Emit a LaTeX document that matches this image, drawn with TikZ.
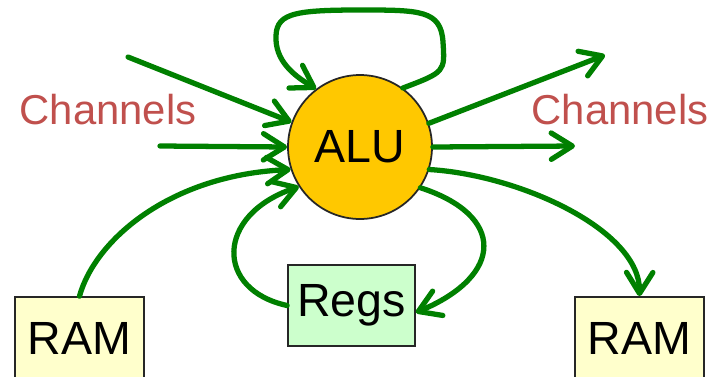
\documentclass[tikz,border=0pt]{standalone}
\usepackage{fontspec}
\setmainfont{Liberation Sans}
\usetikzlibrary{arrows.meta}
\definecolor{flow}{HTML}{008000}
\definecolor{chan}{HTML}{C0504D}
\definecolor{alufill}{HTML}{FFC800}
\definecolor{ramfill}{HTML}{FFFFCC}
\definecolor{regfill}{HTML}{CCFFCC}
\begin{document}
\begin{tikzpicture}[x=0.02cm,y=-0.02cm,
  flowline/.style={draw=flow,line width=3pt,line cap=round,line join=round,
    -{Straight Barb[length=12pt,width=15pt,line cap=round,line join=round]}},
  unitbox/.style={draw=black!85,line width=1pt,inner sep=0pt,font=\fontsize{26.5}{30}\selectfont},
  chanlabel/.style={text=chan,font=\fontsize{23.8}{28}\selectfont,inner sep=0pt}]
\useasboundingbox (0,0) rectangle (723,376);
\node[unitbox,circle,fill=alufill,minimum size=2.88cm] (alu) at (360,147) {ALU};
\node[unitbox,rectangle,fill=ramfill,minimum width=2.58cm,minimum height=1.64cm] (ramL) at (79.5,338) {RAM};
\node[unitbox,rectangle,fill=ramfill,minimum width=2.58cm,minimum height=1.64cm] (ramR) at (639.5,338) {RAM};
\node[unitbox,rectangle,fill=regfill,minimum width=2.54cm,minimum height=1.62cm] (regs) at (351.5,305.5) {Regs};
\node[chanlabel] (chanL) at (108,110) {Channels};
\node[chanlabel] (chanR) at (620,110) {Channels};
\coordinate (inA) at (128,57);
\coordinate (inB) at (160,146);
\coordinate (outA) at (605,55);
\coordinate (outB) at (575,146);
% inputs from channels
\draw[flowline] (inA) -- (alu.160);
\draw[flowline] (inB) -- (alu.180);
% outputs to channels
\draw[flowline] (alu.19) -- (outA);
\draw[flowline] (alu.0) -- (outB);
% self loop on top
\draw[flowline] (alu.54) .. controls (445,72) .. (443,42)
  .. controls (441,10) and (420,10) .. (360,10)
  .. controls (290,10) and (275,14) .. (276,40)
  .. controls (277,64) and (298,78) .. (alu.127);
% RAM left into ALU
\draw[flowline] (ramL.north) .. controls (95,240) and (170,175) .. (alu.198);
% Regs back into ALU
\draw[flowline] (regs.west) .. controls (215,290) and (215,215) .. (alu.213);
% ALU into Regs
\draw[flowline] (alu.-34) .. controls (505,215) and (505,275) .. ([yshift=-0.14cm]regs.east);
% ALU into RAM right
\draw[flowline] (alu.-18) .. controls (520,175) and (640,230) .. (ramR.north);
\end{tikzpicture}
\end{document}
